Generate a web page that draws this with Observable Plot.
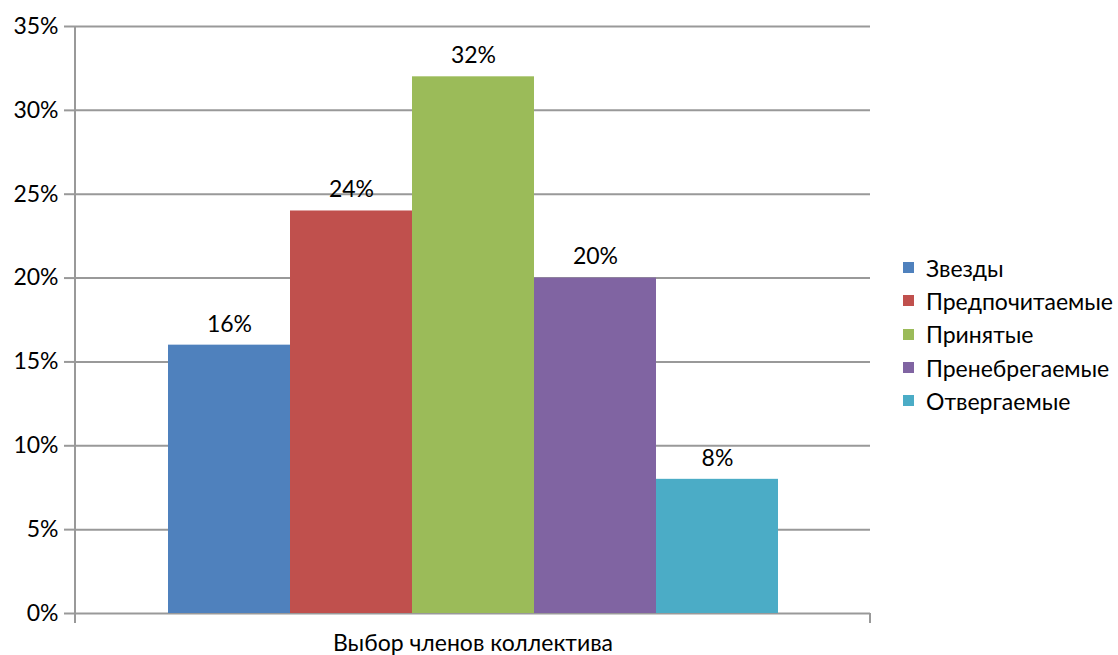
<!DOCTYPE html>
<html><head><meta charset="utf-8">
<script src="https://cdn.jsdelivr.net/npm/d3@7"></script>
<script src="https://cdn.jsdelivr.net/npm/@observablehq/plot@0.6"></script>
<style>
html,body{margin:0;padding:0;background:#fff;}
#wrap{position:relative;width:1118px;height:655px;font-family:Lato,"Open Sans",sans-serif;}
#legend{position:absolute;left:903px;top:251px;font-size:23px;color:#000;}
#legend .row{display:flex;align-items:center;height:33.3px;white-space:nowrap;}
#legend .sw{width:11px;height:11px;margin-right:12px;flex:none;}
</style>
</head><body>
<div id="wrap"><div id="legend"></div></div>
<script>
const categoryLabel = "Выбор членов коллектива";
const series = ["Звезды", "Предпочитаемые", "Принятые", "Пренебрегаемые", "Отвергаемые"];
const values = [16, 24, 32, 20, 8];
const colors = ["#4F81BD", "#C0504D", "#9BBB59", "#8064A2", "#4BACC6"];
const yTicks = [0, 5, 10, 15, 20, 25, 30, 35];

const data = series.map((s, i) => ({series: s, value: values[i]}));

const axisEnds = (index, scales, values, dims) => {
  const g = d3.create("svg:g").attr("stroke", "#999").attr("stroke-width", 2);
  const y0 = scales.y(0);
  const xl = dims.marginLeft, xr = dims.width - dims.marginRight;
  g.append("line").attr("x1", xl).attr("x2", xl).attr("y1", dims.marginTop).attr("y2", y0 + 10);
  g.append("line").attr("x1", xr).attr("x2", xr).attr("y1", y0).attr("y2", y0 + 10);
  return g.node();
};

const chart = Plot.plot({
  width: 1118,
  height: 655,
  marginLeft: 75,
  marginRight: 248,
  marginTop: 26,
  marginBottom: 42,
  style: {fontFamily: "Lato, 'Open Sans', sans-serif", fontSize: "23px", color: "#000", background: "#fff"},
  x: {type: "band", domain: series, paddingInner: 0, paddingOuter: 0.75, axis: null},
  y: {domain: [0, 35], ticks: yTicks, label: null},
  color: {domain: series, range: colors},
  marks: [
    Plot.ruleY(yTicks, {stroke: "#999", strokeWidth: 2, strokeOpacity: 1}),
    Plot.axisY({ticks: yTicks, tickFormat: d => d + "%", tickSize: 11, tickPadding: 6, stroke: "#999", strokeWidth: 2, strokeOpacity: 1, fontSize: 23, label: null}),
    Plot.barY(data, {x: "series", y: "value", fill: "series"}),
    Plot.text(data, {x: "series", y: "value", text: d => d.value + "%", dy: -21, fontSize: 23, fill: "#000"}),
    Plot.text([categoryLabel], {frameAnchor: "bottom", lineAnchor: "middle", text: d => d, dy: 30, fontSize: 23, fill: "#000"}),
    axisEnds
  ]
});
document.getElementById("wrap").prepend(chart);

const legend = document.getElementById("legend");
series.forEach((s, i) => {
  const row = document.createElement("div");
  row.className = "row";
  row.innerHTML = `<span class="sw" style="background:${colors[i]}"></span><span>${s}</span>`;
  legend.appendChild(row);
});
</script>
</body></html>
